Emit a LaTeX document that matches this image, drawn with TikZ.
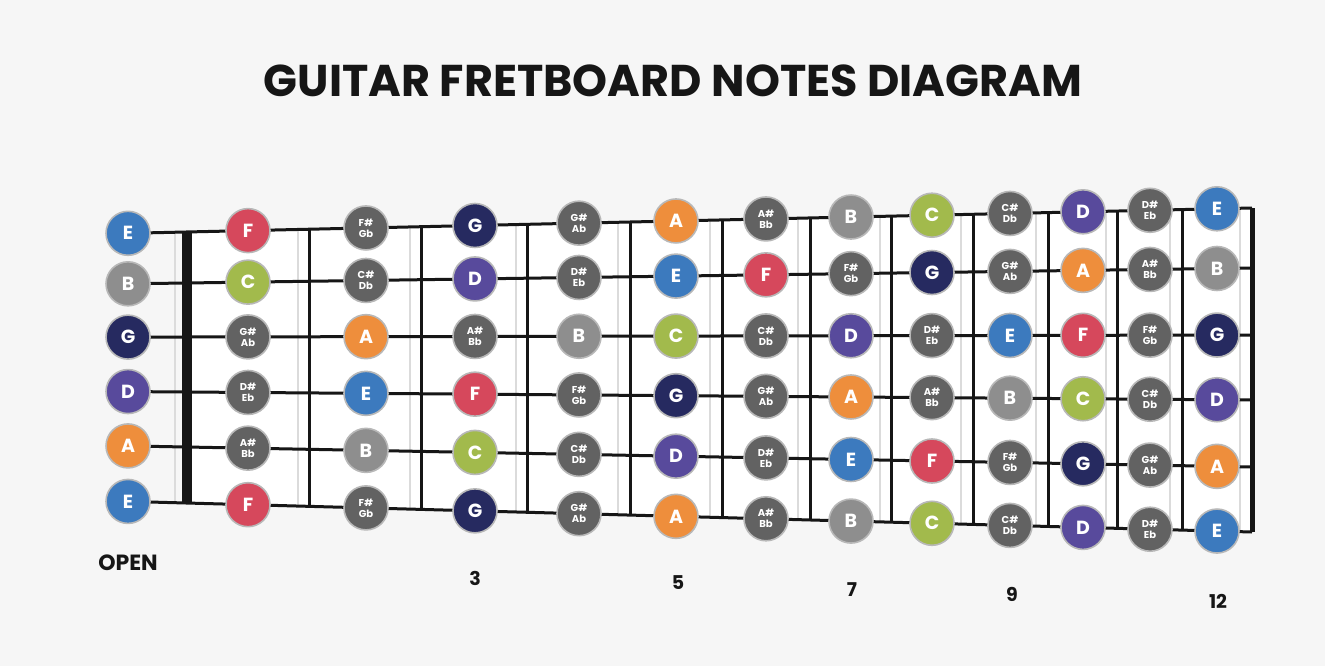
\documentclass[tikz,border=0pt]{standalone}
\usepackage{fontspec}
\setmainfont{Poppins}
\usetikzlibrary{calc}
\definecolor{bg}{RGB}{246,246,246}
\definecolor{ink}{RGB}{22,22,22}
\definecolor{cE}{RGB}{60,122,190}
\definecolor{cF}{RGB}{214,72,92}
\definecolor{cG}{RGB}{38,42,96}
\definecolor{cA}{RGB}{238,142,60}
\definecolor{cB}{RGB}{142,142,142}
\definecolor{cC}{RGB}{162,186,76}
\definecolor{cD}{RGB}{88,74,156}
\definecolor{cSh}{RGB}{98,98,98}
\tikzset{
  note/.style={circle,minimum size=44pt,inner sep=0pt,draw=black!28,line width=1.6pt,
    text=white,font=\fontsize{19}{19}\selectfont\bfseries},
  nat/.style={note,fill=c#1},
  shp/.style={note,fill=cSh,align=center,font=\fontsize{10}{11}\selectfont\bfseries},
  strg/.style={ink,line width=3pt},
  fret/.style={ink,line width=3pt},
  fshade/.style={black!14,line width=1.2pt},
  fnum/.style={font=\fontsize{19}{19}\selectfont\bfseries,text=ink},
}
% two-name labels for the sharps / flats
\newcommand{\labFs}{F\#\\Gb}
\newcommand{\labGs}{G\#\\Ab}
\newcommand{\labAs}{A\#\\Bb}
\newcommand{\labCs}{C\#\\Db}
\newcommand{\labDs}{D\#\\Eb}

\begin{document}
\begin{tikzpicture}[x=1pt,y=-1pt]
\fill[bg] (0,0) rectangle (1325,666);
\node[font=\fontsize{44.5}{44}\selectfont\bfseries,text=ink] (title) at (673,81)
  {GUITAR FRETBOARD NOTES DIAGRAM};

% strings: nut end and last-fret end
\foreach \yl/\yr [count=\s] in {232/208,283/268,337/335,392/400,447/467,503/532}{
  \coordinate (sL-\s) at (186,\yl);
  \coordinate (sR-\s) at (1252,\yr);
  \coordinate (sO-\s) at ($(sL-\s)!-0.0544!(sR-\s)$);
}
\fill[white] (sL-1) -- (sR-1) -- (sR-6) -- (sL-6) -- cycle;

% frets
\foreach \fx [count=\j from 0] in {187,310,422,528,630,722,810,892,973,1048,1118,1182,1252}{
  \pgfmathsetmacro\tpos{(\fx-186)/1066}
  \coordinate (ft-\j) at ($(sL-1)!\tpos!(sR-1)$);
  \coordinate (fb-\j) at ($(sL-6)!\tpos!(sR-6)$);
  \draw[fshade] ([xshift=-12pt]ft-\j) -- ([xshift=-12pt]fb-\j);
  \draw[fret] (ft-\j) -- (fb-\j);
}
\draw[fret,line width=10pt] (ft-0) -- (fb-0);
\draw[fret,line width=5pt] (ft-12) -- (fb-12);

\foreach \s in {1,...,6}
  \draw[strg] (sO-\s) -- (sR-\s);

% notes, string by string
\foreach \s/\row in {1/{E,F,Fs,G,Gs,A,As,B,C,Cs,D,Ds,E},
                     2/{B,C,Cs,D,Ds,E,F,Fs,G,Gs,A,As,B},
                     3/{G,Gs,A,As,B,C,Cs,D,Ds,E,F,Fs,G},
                     4/{D,Ds,E,F,Fs,G,Gs,A,As,B,C,Cs,D},
                     5/{A,As,B,C,Cs,D,Ds,E,F,Fs,G,Gs,A},
                     6/{E,F,Fs,G,Gs,A,As,B,C,Cs,D,Ds,E}}{
  \foreach \n [count=\f from 0] in \row {
    \pgfmathsetmacro\nx{{128,248,366,475,579,676,766,851,932,1010,1083,1150,1217}[\f]}
    \pgfmathsetmacro\tpos{(\nx-186)/1066}
    \ifcsname lab\n\endcsname
      \node[shp] (n-\s-\f) at ($(sL-\s)!\tpos!(sR-\s)$) {\csname lab\n\endcsname};
    \else
      \node[nat=\n] (n-\s-\f) at ($(sL-\s)!\tpos!(sR-\s)$) {\n};
    \fi
  }
}

% fret markers
\node[fnum,font=\fontsize{22}{22}\selectfont\bfseries] (m-0) at (128,563) {OPEN};
\node[fnum] (m-3) at (475,578) {3};
\node[fnum] (m-5) at (678,583) {5};
\node[fnum] (m-7) at (852,590) {7};
\node[fnum] (m-9) at (1012,594) {9};
\node[fnum] (m-12) at (1218,601) {12};
\end{tikzpicture}
\end{document}
